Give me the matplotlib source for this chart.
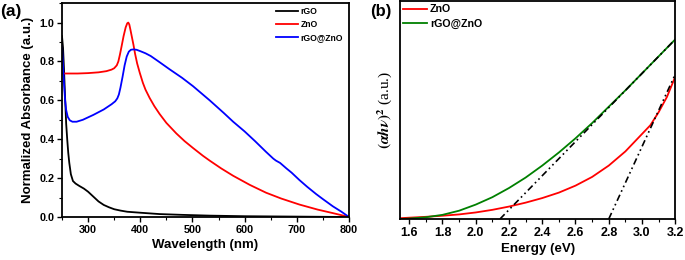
import matplotlib
matplotlib.use("Agg")
import matplotlib.pyplot as plt
from matplotlib.ticker import MultipleLocator, NullLocator

# ---------------- data: panel (a) ----------------
wl_rgo = [250, 252, 254, 256, 258, 260, 262, 264, 267, 271, 276, 283, 292, 300, 310,
          320, 330, 340, 350, 362, 375, 400, 437, 480, 533, 600, 650, 700, 750, 800]
abs_rgo = [0.93, 0.87, 0.75, 0.61, 0.48, 0.40, 0.33, 0.278, 0.22, 0.185, 0.172, 0.16,
           0.146, 0.13, 0.105, 0.08, 0.062, 0.05, 0.04, 0.033, 0.027, 0.022, 0.015,
           0.011, 0.007, 0.004, 0.003, 0.002, 0.001, 0.0]

wl_zno = [250, 280, 300, 320, 335, 345, 350, 355, 358, 361, 364, 368, 372, 375, 377,
          379, 381, 384, 387, 390, 394, 399, 405, 410, 418, 427, 437, 450, 469, 485,
          501, 520, 533, 555, 578, 610, 641, 670, 705, 740, 769, 800]
abs_zno = [0.738, 0.738, 0.74, 0.744, 0.75, 0.758, 0.765, 0.78, 0.80, 0.835, 0.875,
           0.93, 0.975, 0.996, 1.0, 0.99, 0.965, 0.925, 0.885, 0.84, 0.79, 0.742, 0.69,
           0.655, 0.612, 0.57, 0.53, 0.484, 0.43, 0.39, 0.355, 0.315, 0.29, 0.25, 0.212,
           0.165, 0.125, 0.095, 0.064, 0.038, 0.02, 0.0]

wl_comp = [250, 252, 254, 256, 258, 261, 265, 270, 278, 290, 310, 330, 345, 352, 356,
           359, 362, 366, 370, 374, 378, 382, 387, 393, 400, 410, 420, 435, 456, 480,
           501, 533, 560, 578, 600, 620, 641, 655, 660, 668, 680, 690, 705, 720, 737,
           750, 769, 785, 800]
abs_comp = [0.88, 0.78, 0.68, 0.60, 0.55, 0.515, 0.497, 0.49, 0.49, 0.50, 0.525, 0.553,
            0.58, 0.595, 0.61, 0.63, 0.665, 0.72, 0.78, 0.825, 0.85, 0.86, 0.862, 0.86,
            0.853, 0.842, 0.828, 0.80, 0.76, 0.716, 0.673, 0.60, 0.535, 0.49, 0.44,
            0.39, 0.335, 0.30, 0.29, 0.278, 0.25, 0.228, 0.19, 0.155, 0.118, 0.092,
            0.055, 0.028, 0.0]

labels_a = ["rGO", "ZnO", "rGO@ZnO"]

# ---------------- data: panel (b) ----------------
E_zno = [1.53, 1.6, 1.7, 1.8, 1.9, 2.0, 2.1, 2.2, 2.3, 2.4, 2.5, 2.6, 2.7, 2.8, 2.9,
         3.0, 3.05, 3.1, 3.15, 3.2]
tauc_zno = [0.003, 0.006, 0.010, 0.015, 0.021, 0.030, 0.042, 0.057, 0.075, 0.096, 0.121,
            0.153, 0.193, 0.245, 0.31, 0.39, 0.43, 0.49, 0.56, 0.653]

E_comp = [1.545, 1.6, 1.7, 1.8, 1.9, 2.0, 2.1, 2.2, 2.3, 2.4, 2.5, 2.6, 2.7, 2.8, 2.9,
          3.0, 3.1, 3.2]
tauc_comp = [0.0, 0.002, 0.008, 0.019, 0.038, 0.066, 0.10, 0.142, 0.19, 0.245, 0.305,
             0.37, 0.44, 0.515, 0.59, 0.668, 0.746, 0.824]

# tangent (band-gap extrapolation) lines
fit_zno_E = [2.80, 3.2]
fit_zno_y = [0.0, 0.664]
fit_comp_E = [2.146, 3.2]
fit_comp_y = [0.0, 0.824]

labels_b = ["ZnO", "rGO@ZnO"]

# ---------------- figure ----------------
plt.rcParams['font.family'] = ['Liberation Sans', 'DejaVu Sans']
plt.rcParams['font.weight'] = 'bold'
plt.rcParams['mathtext.fontset'] = 'stix'

fig = plt.figure(figsize=(6.85, 2.6), dpi=100)

# ---- panel (a)
axa = fig.add_axes([0.0905, 0.1654, 0.419, 0.8226])
lw = 1.3
axa.plot(wl_rgo, abs_rgo, color='black', lw=lw, label=labels_a[0])
axa.plot(wl_zno, abs_zno, color='#ff0000', lw=lw, label=labels_a[1])
axa.plot(wl_comp, abs_comp, color='#0000ff', lw=lw, label=labels_a[2])
axa.set_xlim(250, 800)
axa.set_ylim(0, 1.1)
axa.set_xticks([300, 400, 500, 600, 700, 800])
axa.set_yticks([0.0, 0.2, 0.4, 0.6, 0.8, 1.0])
axa.set_yticklabels(['0.0', '0.2', '0.4', '0.6', '0.8', '1.0'])
axa.xaxis.set_minor_locator(MultipleLocator(50))
axa.yaxis.set_minor_locator(MultipleLocator(0.1))
axa.tick_params(which='major', direction='out', length=3.5, width=1.0, labelsize=7.8, pad=2)
axa.tick_params(which='minor', direction='out', length=2, width=0.8)
for s in axa.spines.values():
    s.set_linewidth(1.3)
axa.set_xlabel('Wavelength (nm)', fontsize=9.5, fontweight='bold', labelpad=3)
axa.set_ylabel('Normalized Absorbance (a.u.)', fontsize=9.5, fontweight='bold', labelpad=4)
axa.legend(loc='upper left', bbox_to_anchor=(0.745, 0.98), frameon=False, fontsize=6.2,
           handlelength=2.6, handletextpad=0.3, labelspacing=0.45, borderpad=0,
           borderaxespad=0)
fig.text(0.0, 0.985, '(a)', fontsize=12.5, fontweight='bold', ha='left', va='top')

# ---- panel (b)
axb = fig.add_axes([0.584, 0.1577, 0.4018, 0.8385])
axb.plot(E_zno, tauc_zno, color='#ff0000', lw=lw, label=labels_b[0])
axb.plot(E_comp, tauc_comp, color='#008000', lw=lw, label=labels_b[1])
axb.plot(fit_comp_E, fit_comp_y, color='black', lw=1.2, ls=(0, (4, 2, 1, 2, 1, 2)))
axb.plot(fit_zno_E, fit_zno_y, color='black', lw=1.2, ls=(0, (4, 2, 1, 2, 1, 2)))
axb.set_xlim(1.545, 3.2)
axb.set_ylim(0, 1.0)
axb.set_xticks([1.6, 1.8, 2.0, 2.2, 2.4, 2.6, 2.8, 3.0, 3.2])
axb.set_xticklabels(['1.6', '1.8', '2.0', '2.2', '2.4', '2.6', '2.8', '3.0', '3.2'])
axb.xaxis.set_minor_locator(MultipleLocator(0.1))
axb.yaxis.set_major_locator(NullLocator())
axb.tick_params(which='major', direction='out', length=3.5, width=1.0, labelsize=9, pad=2)
axb.tick_params(which='minor', direction='out', length=2, width=0.8)
for s in axb.spines.values():
    s.set_linewidth(1.3)
axb.set_xlabel('Energy (eV)', fontsize=9.6, fontweight='bold', labelpad=3)
axb.set_ylabel(r'$(\alpha h\nu)^2$ (a.u.)', fontsize=11, fontweight='normal',
               family=['Liberation Serif', 'DejaVu Serif'], labelpad=4)
axb.legend(loc='upper left', bbox_to_anchor=(0.012, 0.985), frameon=False, fontsize=7.7,
           handlelength=2.2, handletextpad=0.3, labelspacing=0.45, borderpad=0,
           borderaxespad=0)
fig.text(0.541, 0.985, '(b)', fontsize=12, fontweight='bold', ha='left', va='top')

fig.savefig('out.png', dpi=100)
